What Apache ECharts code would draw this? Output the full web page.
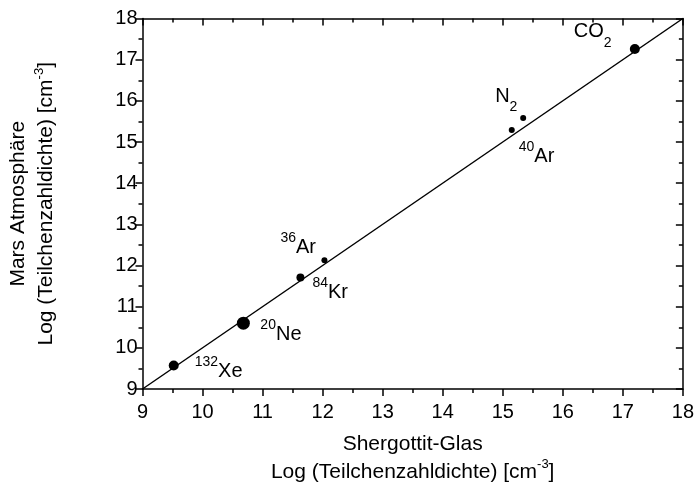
<!DOCTYPE html>
<html>
<head>
<meta charset="utf-8">
<script src="https://cdn.jsdelivr.net/npm/echarts@6/dist/echarts.min.js"></script>
<style>
  html, body { margin: 0; padding: 0; background: #fff; }
  #chart { width: 697px; height: 500px; }
</style>
</head>
<body>
<div id="chart"></div>
<script>
// Noble gases and main species: Shergottit glass inclusions vs. Mars atmosphere
const massNumbers   = ['132', '20', '84', '36', '40', '', ''];
const speciesSymbol = ['Xe', 'Ne', 'Kr', 'Ar', 'Ar', 'N', 'CO'];
const speciesSub    = ['', '', '', '', '', '2', '2'];
const shergottitGlas = [9.52, 10.68, 11.63, 12.03, 15.15, 15.34, 17.20];
const marsAtmosphere = [9.57, 10.60, 11.71, 12.13, 15.29, 15.58, 17.26];

// Reference line y = x
const refLineX = [9, 18];
const refLineY = [9, 18];

const xTicks = { min: 9, max: 18, interval: 1 };
const yTicks = { min: 9, max: 18, interval: 1 };

// Marker sizes and label placement (px, relative to the marker centre)
const dotSizes = [10, 13, 8, 6, 6, 6, 10];
const labelOffsets = [[21, 6], [17, 11], [12, 15], [-44, -13], [7, 26], [-28, -16], [-61, -11]];

const FONT = '"Liberation Sans", Arial, Helvetica, sans-serif';

const richStyles = {
  // element symbol after a mass number (pushed down so the number sits raised)
  m: { fontSize: 20, lineHeight: 32, verticalAlign: 'top', padding: [6, 0, 0, 0], fontFamily: FONT, color: '#000' },
  // molecule formula text
  n: { fontSize: 20, lineHeight: 32, verticalAlign: 'top', fontFamily: FONT, color: '#000' },
  // superscript mass number
  p: { fontSize: 14, lineHeight: 14, verticalAlign: 'top', fontFamily: FONT, color: '#000' },
  // subscript atom count
  b: { fontSize: 14, lineHeight: 14, verticalAlign: 'top', padding: [14, 0, 0, 0], fontFamily: FONT, color: '#000' }
};

function speciesLabel(i) {
  if (massNumbers[i]) {
    return '{p|' + massNumbers[i] + '}{m|' + speciesSymbol[i] + '}';
  }
  return '{n|' + speciesSymbol[i] + '}' + (speciesSub[i] ? '{b|' + speciesSub[i] + '}' : '');
}

const scatterData = shergottitGlas.map((x, i) => ({
  value: [x, marsAtmosphere[i]],
  symbolSize: dotSizes[i],
  label: {
    show: true,
    position: 'inside',
    align: 'left',
    verticalAlign: 'middle',
    offset: labelOffsets[i],
    color: '#000',
    textBorderWidth: 0,
    formatter: speciesLabel(i),
    rich: richStyles
  }
}));

const axisNameRich = {
  t: { fontSize: 21, lineHeight: 28, fontFamily: FONT, color: '#000' },
  s: { fontSize: 13, lineHeight: 13, verticalAlign: 'top', fontFamily: FONT, color: '#000' }
};
const unitLine = '{t|Log (Teilchenzahldichte) [cm}{s|-3}{t|]}';

const lineStyle = { color: '#000', width: 1.5 };

function axisBase(range, mirror, labelMargin) {
  return {
    type: 'value',
    min: range.min,
    max: range.max,
    interval: range.interval,
    splitLine: { show: false },
    axisLine: { show: true, onZero: false, lineStyle: lineStyle },
    axisTick: { show: true, inside: mirror, length: 7, lineStyle: lineStyle },
    minorTick: { show: true, splitNumber: 2, length: 4, lineStyle: { color: '#000', width: 1.5 } },
    axisLabel: {
      show: !mirror,
      fontSize: 20,
      fontFamily: FONT,
      color: '#000',
      margin: labelMargin
    }
  };
}

const chart = echarts.init(document.getElementById('chart'), null, { renderer: 'canvas' });

chart.setOption({
  animation: false,
  backgroundColor: '#fff',
  grid: { left: 142, right: 14, top: 18.5, bottom: 111, containLabel: false },
  xAxis: [
    Object.assign(axisBase(xTicks, false, 13), {
      position: 'bottom',
      name: '{t|Shergottit-Glas}\n' + unitLine,
      nameLocation: 'middle',
      nameGap: 41,
      nameTextStyle: { rich: axisNameRich, align: 'center' }
    }),
    Object.assign(axisBase(xTicks, true, 8), { position: 'top' })
  ],
  yAxis: [
    Object.assign(axisBase(yTicks, false, 5), {
      position: 'left',
      name: '{t|Mars Atmosphäre}\n' + unitLine,
      nameLocation: 'middle',
      nameGap: 82,
      nameRotate: 90,
      nameTextStyle: { rich: axisNameRich, align: 'center' }
    }),
    Object.assign(axisBase(yTicks, true, 8), { position: 'right' })
  ],
  series: [
    {
      type: 'line',
      data: refLineX.map((x, i) => [x, refLineY[i]]),
      showSymbol: false,
      symbol: 'none',
      lineStyle: lineStyle,
      z: 1,
      silent: true
    },
    {
      type: 'scatter',
      data: scatterData,
      itemStyle: { color: '#000', opacity: 1 },
      z: 3
    }
  ]
});
</script>
</body>
</html>
